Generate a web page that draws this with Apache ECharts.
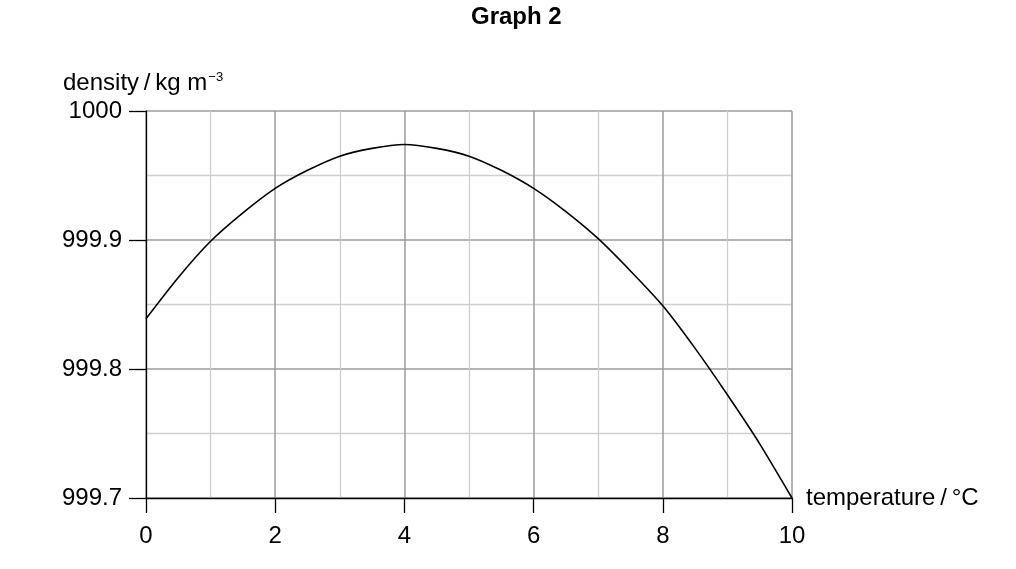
<!DOCTYPE html>
<html lang="en">
<head>
<meta charset="UTF-8">
<title>Graph 2</title>
<script src="https://cdn.jsdelivr.net/npm/echarts@6/dist/echarts.min.js"></script>
<style>
  html, body { margin: 0; padding: 0; background: #fff; }
</style>
</head>
<body>
<div id="main" style="width:1016px;height:569px;"></div>
<script>
// temperature in °C and density in kg m^-3
var temperature = [0, 0.5, 1, 1.5, 2, 2.5, 3, 3.5, 4, 4.5, 5, 5.5, 6, 6.5, 7, 7.5, 8, 8.5, 9, 9.5, 10];
var density = [999.839, 999.871, 999.899, 999.921, 999.940, 999.954, 999.965, 999.971, 999.974, 999.971,
               999.965, 999.954, 999.940, 999.922, 999.901, 999.876, 999.849, 999.816, 999.780, 999.742, 999.700];

var points = [];
for (var i = 0; i < temperature.length; i++) {
    points.push([temperature[i], density[i]]);
}

var myChart = echarts.init(document.getElementById('main'));
var font = 'Liberation Sans, Arial, sans-serif';

var option = {
    animation: false,
    title: {
        text: 'Graph 2',
        left: 471,
        top: 5,
        padding: 0,
        textStyle: { fontFamily: font, fontSize: 24, fontWeight: 'bold', color: '#000' }
    },
    grid: { left: 146, right: 224, top: 111, bottom: 71 },
    xAxis: {
        type: 'value',
        min: 0,
        max: 10,
        interval: 2,
        name: 'temperature\u2009/\u2009°C',
        nameLocation: 'end',
        nameGap: 14,
        nameTextStyle: { fontFamily: font, fontSize: 24, color: '#000' },
        axisLine: { lineStyle: { color: '#000', width: 1.3 } },
        axisTick: { show: true, length: 15, lineStyle: { color: '#000', width: 1.3 } },
        axisLabel: { fontFamily: font, fontSize: 24, color: '#000', margin: 26 },
        splitLine: { show: true, lineStyle: { color: '#9b9b9b', width: 1.5 } },
        minorTick: { show: false, splitNumber: 2 },
        minorSplitLine: { show: true, lineStyle: { color: '#cdcdcd', width: 1.3 } }
    },
    yAxis: {
        type: 'value',
        min: 999.7,
        max: 1000,
        interval: 0.1,
        name: 'density\u2009/\u2009kg m{sup|−3}',
        nameLocation: 'end',
        nameGap: 15,
        nameTextStyle: {
            fontFamily: font, fontSize: 24, color: '#000', align: 'left', padding: [0, 0, 0, -83],
            rich: { sup: { fontFamily: font, fontSize: 13, color: '#000', verticalAlign: 'top', padding: [0, 0, 12, 1] } }
        },
        axisLine: { show: true, lineStyle: { color: '#000', width: 1.3 } },
        axisTick: { show: true, length: 17, lineStyle: { color: '#000', width: 1.3 } },
        axisLabel: {
            fontFamily: font, fontSize: 24, color: '#000', margin: 24,
            formatter: function (v) {
                var r = Math.round(v * 10) / 10;
                return r === 1000 ? '1000' : r.toFixed(1);
            }
        },
        splitLine: { show: true, lineStyle: { color: '#9b9b9b', width: 1.5 } },
        minorTick: { show: false, splitNumber: 2 },
        minorSplitLine: { show: true, lineStyle: { color: '#cdcdcd', width: 1.3 } }
    },
    series: [
        {
            type: 'line',
            data: points,
            smooth: 0.25,
            showSymbol: false,
            lineStyle: { color: '#000', width: 1.6 },
            z: 5
        }
    ]
};

myChart.setOption(option);
</script>
</body>
</html>
